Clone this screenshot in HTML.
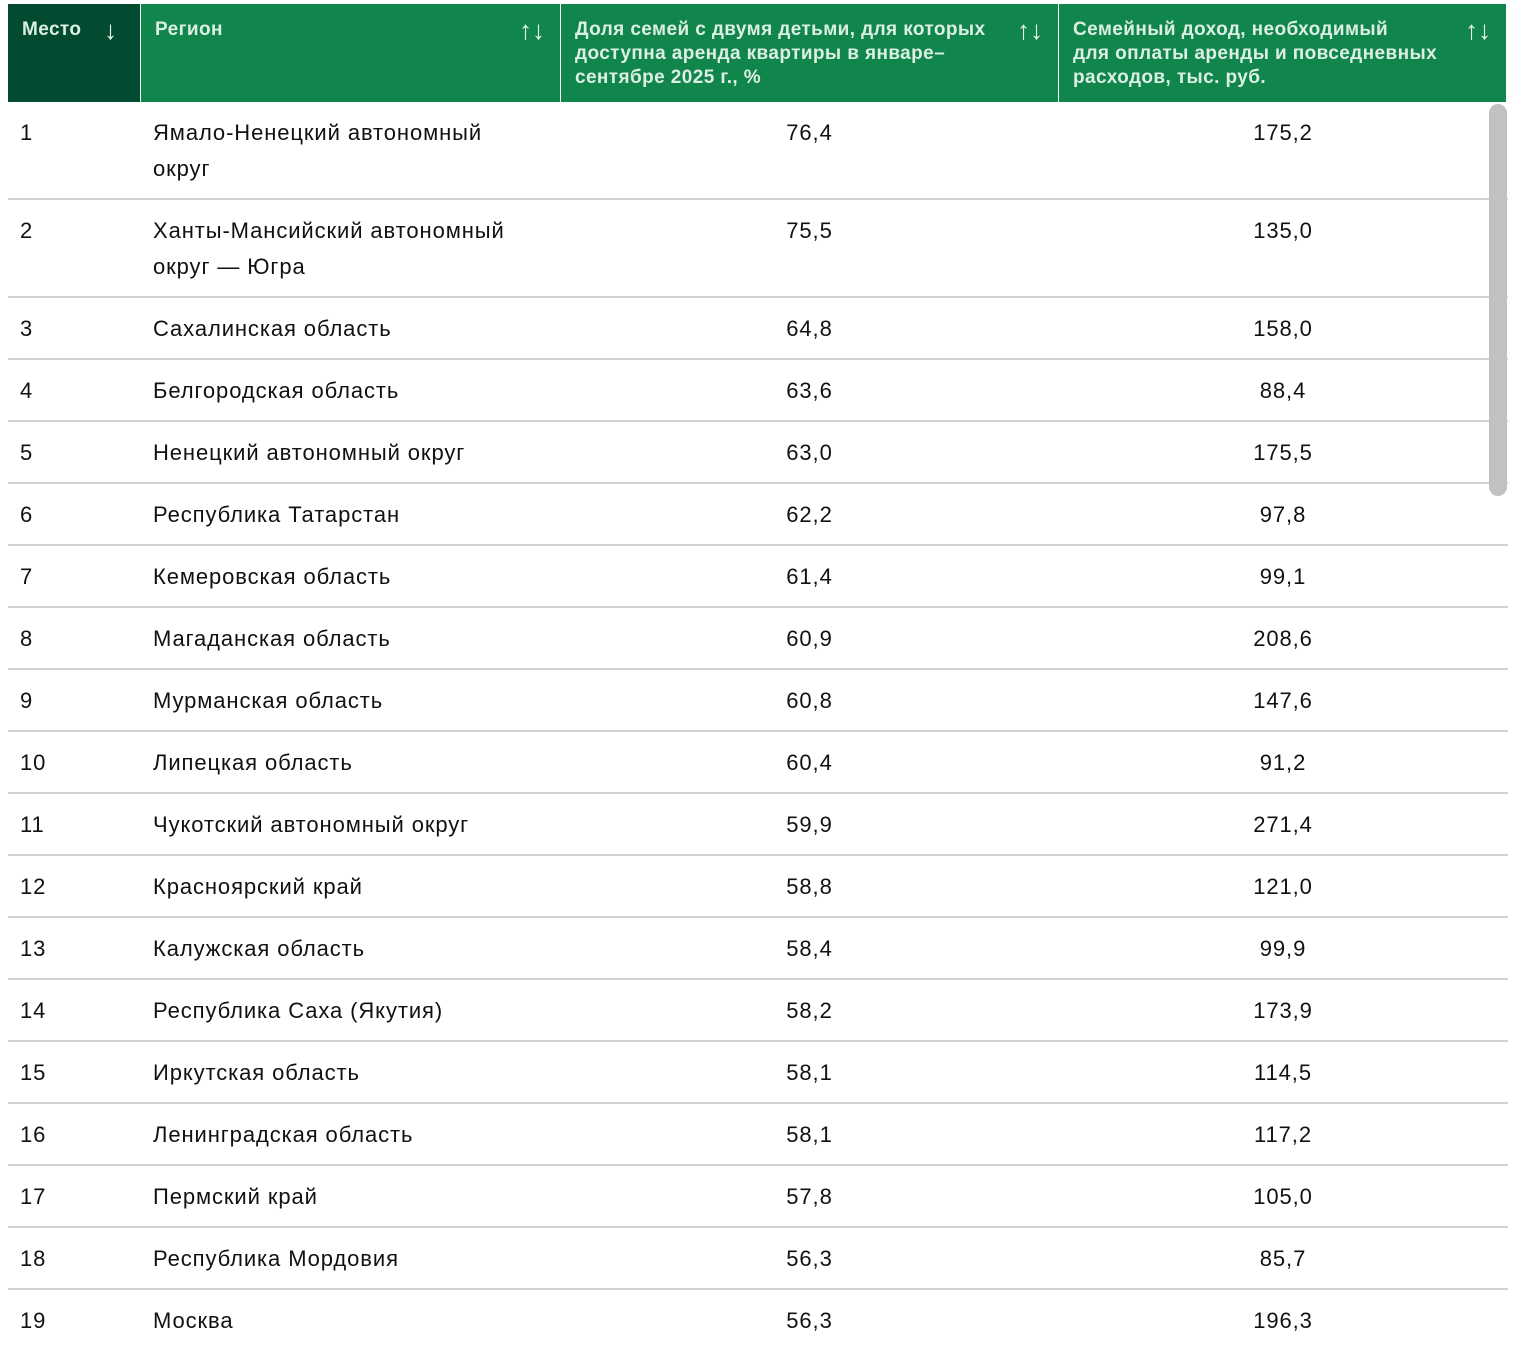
<!DOCTYPE html>
<html><head><meta charset="utf-8"><style>
*{margin:0;padding:0;box-sizing:border-box}
body{width:1520px;height:1348px;background:#fff;overflow:hidden;font-family:"Liberation Sans","DejaVu Sans",sans-serif;position:relative}
.hd{position:absolute;top:4px;height:98px;background:#10854c;color:#dcefe3;font-weight:bold;font-size:19px;line-height:24px;padding:14px 14px 0 14px;letter-spacing:0.4px;white-space:nowrap}
.ar{position:absolute;top:14px;font-weight:normal;font-size:26px;color:#e8f4ec;letter-spacing:0}
.row{position:absolute;left:8px;width:1500px;border-bottom:2px solid #d2d2d2;font-size:22px;line-height:36px;color:#111;letter-spacing:0.9px}
.row div{position:absolute;top:13px;white-space:nowrap}
.c1{left:12px}.c2{left:145px}
.c3{left:553px;width:497px;text-align:center}
.c4{left:1051px;width:448px;text-align:center}
</style></head><body>
<div class="hd" style="left:8px;width:132px;background:#024a30">Место<span class="ar" style="left:96px">↓</span></div>
<div class="hd" style="left:141px;width:419px">Регион<span class="ar" style="left:378px">↑↓</span></div>
<div class="hd" style="left:561px;width:497px">Доля семей с двумя детьми, для которых<br>доступна аренда квартиры в январе–<br>сентябре 2025 г., %<span class="ar" style="left:456px">↑↓</span></div>
<div class="hd" style="left:1059px;width:447px">Семейный доход, необходимый<br>для оплаты аренды и повседневных<br>расходов, тыс. руб.<span class="ar" style="left:406px">↑↓</span></div>

<div class="row" style="top:102px;height:98px"><div class="c1">1</div><div class="c2">Ямало-Ненецкий автономный<br>округ</div><div class="c3">76,4</div><div class="c4">175,2</div></div>
<div class="row" style="top:200px;height:98px"><div class="c1">2</div><div class="c2">Ханты-Мансийский автономный<br>округ — Югра</div><div class="c3">75,5</div><div class="c4">135,0</div></div>
<div class="row" style="top:298px;height:62px"><div class="c1">3</div><div class="c2">Сахалинская область</div><div class="c3">64,8</div><div class="c4">158,0</div></div>
<div class="row" style="top:360px;height:62px"><div class="c1">4</div><div class="c2">Белгородская область</div><div class="c3">63,6</div><div class="c4">88,4</div></div>
<div class="row" style="top:422px;height:62px"><div class="c1">5</div><div class="c2">Ненецкий автономный округ</div><div class="c3">63,0</div><div class="c4">175,5</div></div>
<div class="row" style="top:484px;height:62px"><div class="c1">6</div><div class="c2">Республика Татарстан</div><div class="c3">62,2</div><div class="c4">97,8</div></div>
<div class="row" style="top:546px;height:62px"><div class="c1">7</div><div class="c2">Кемеровская область</div><div class="c3">61,4</div><div class="c4">99,1</div></div>
<div class="row" style="top:608px;height:62px"><div class="c1">8</div><div class="c2">Магаданская область</div><div class="c3">60,9</div><div class="c4">208,6</div></div>
<div class="row" style="top:670px;height:62px"><div class="c1">9</div><div class="c2">Мурманская область</div><div class="c3">60,8</div><div class="c4">147,6</div></div>
<div class="row" style="top:732px;height:62px"><div class="c1">10</div><div class="c2">Липецкая область</div><div class="c3">60,4</div><div class="c4">91,2</div></div>
<div class="row" style="top:794px;height:62px"><div class="c1">11</div><div class="c2">Чукотский автономный округ</div><div class="c3">59,9</div><div class="c4">271,4</div></div>
<div class="row" style="top:856px;height:62px"><div class="c1">12</div><div class="c2">Красноярский край</div><div class="c3">58,8</div><div class="c4">121,0</div></div>
<div class="row" style="top:918px;height:62px"><div class="c1">13</div><div class="c2">Калужская область</div><div class="c3">58,4</div><div class="c4">99,9</div></div>
<div class="row" style="top:980px;height:62px"><div class="c1">14</div><div class="c2">Республика Саха (Якутия)</div><div class="c3">58,2</div><div class="c4">173,9</div></div>
<div class="row" style="top:1042px;height:62px"><div class="c1">15</div><div class="c2">Иркутская область</div><div class="c3">58,1</div><div class="c4">114,5</div></div>
<div class="row" style="top:1104px;height:62px"><div class="c1">16</div><div class="c2">Ленинградская область</div><div class="c3">58,1</div><div class="c4">117,2</div></div>
<div class="row" style="top:1166px;height:62px"><div class="c1">17</div><div class="c2">Пермский край</div><div class="c3">57,8</div><div class="c4">105,0</div></div>
<div class="row" style="top:1228px;height:62px"><div class="c1">18</div><div class="c2">Республика Мордовия</div><div class="c3">56,3</div><div class="c4">85,7</div></div>
<div class="row" style="top:1290px;height:62px;border-bottom:none"><div class="c1">19</div><div class="c2">Москва</div><div class="c3">56,3</div><div class="c4">196,3</div></div>

<div style="position:absolute;left:1489px;top:104px;width:18px;height:392px;background:#c1c1c1;border-radius:9px"></div>
</body></html>
